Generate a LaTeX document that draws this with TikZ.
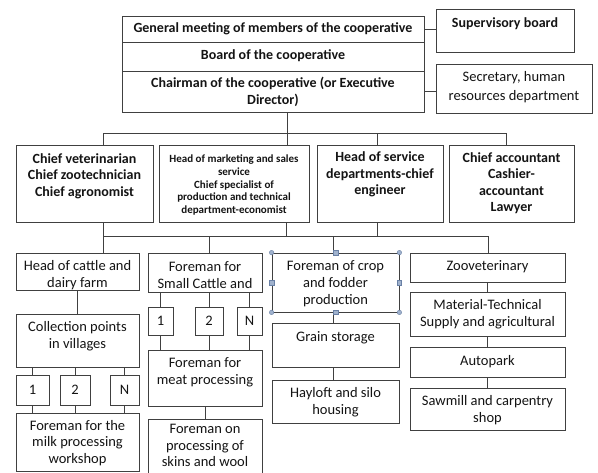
\documentclass[tikz,border=0pt]{standalone}
\usepackage{fontspec}
\setmainfont{Carlito}
\usetikzlibrary{fit}
\definecolor{ln}{RGB}{64,64,64}
\definecolor{tx}{RGB}{20,20,20}
\definecolor{hdl}{RGB}{160,178,205}
\definecolor{hdlb}{RGB}{105,128,165}
\begin{document}
\begin{tikzpicture}[x=1pt,y=-1pt,
  bx/.style={draw=ln, line width=0.8pt, inner sep=0pt},
  bt/.style={text=tx, font=\fontsize{14}{16.5}\selectfont\bfseries, align=center, inner sep=0pt},
  rt/.style={text=tx, font=\fontsize{14.5}{16.8}\selectfont, align=center, inner sep=0pt},
  st/.style={text=tx, font=\fontsize{11}{12.6}\selectfont\bfseries, align=center, inner sep=0pt},
  cn/.style={draw=ln, line width=0.8pt},
  hc/.style={circle, fill=hdl, draw=hdlb, line width=0.4pt, minimum size=4.5pt, inner sep=0pt},
  hs/.style={rectangle, fill=hdl, draw=hdlb, line width=0.4pt, minimum size=4.5pt, inner sep=0pt}]
\clip (0,0) rectangle (598,472);
\fill[white] (0,0) rectangle (598,472);
% top block
\node[bx, fit={(122,16) (424,42)}] (gm) {};
\node[bx, fit={(122,42) (424,71)}] (board) {};
\node[bx, fit={(122,71) (424,112)}] (chair) {};
\node[bx, fit={(436,9) (574,52)}] (sup) {};
\node[bx, fit={(436,64) (592,113)}] (sec) {};
\node[bt] (gm-t) at (273,29) {General meeting of members of the cooperative};
\node[bt] (board-t) at (273,56) {Board of the cooperative};
\node[bt] (chair-t) at (273,92) {Chairman of the cooperative (or Executive\\Director)};
\node[bt] (sup-t) at (505,24) {Supervisory board};
\node[text=tx, font=\fontsize{14.5}{19}\selectfont, align=center, inner sep=0pt] (sec-t) at (514,87) {Secretary, human\\resources department};
% row 2
\node[bx, fit={(16,145) (153,222)}] (A) {};
\node[bx, fit={(159,145) (309,222)}] (B) {};
\node[bx, fit={(317,145) (443,222)}] (C) {};
\node[bx, fit={(449,145) (574,222)}] (D) {};
\node[bt] (A-t) at (84.5,176) {Chief veterinarian\\Chief zootechnician\\Chief agronomist};
\node[st] (B-t) at (234,185) {Head of marketing and sales\\service\\Chief specialist of\\production and technical\\department-economist};
\node[bt] (C-t) at (380,174.5) {Head of service\\departments-chief\\engineer};
\node[bt] (D-t) at (511.5,183) {Chief accountant\\Cashier-\\accountant\\Lawyer};
% column 1
\node[bx, fit={(16,253) (139,290)}] (cattle) {};
\node[bx, fit={(16,314) (139,367)}] (coll) {};
\node[bx, fit={(16,375) (49,405)}] (n1) {};
\node[bx, fit={(60,375) (90,405)}] (n2) {};
\node[bx, fit={(110,375) (139,405)}] (nN) {};
\node[bx, fit={(16,413) (139,471)}] (milk) {};
\node[rt] (cattle-t) at (77.5,275) {Head of cattle and\\dairy farm};
\node[rt] (coll-t) at (77.5,336.5) {Collection points\\in villages};
\node[rt] (n1-t) at (32.5,390) {1};
\node[rt] (n2-t) at (75,390) {2};
\node[rt] (nN-t) at (124.5,390) {N};
\node[rt] (milk-t) at (77.5,443) {Foreman for the\\milk processing\\workshop};
% column 2
\node[bx, fit={(148,253) (262,292)}] (small) {};
\node[bx, fit={(148,307) (173,335)}] (m1) {};
\node[bx, fit={(195,307) (223,335)}] (m2) {};
\node[bx, fit={(237,307) (262,335)}] (mN) {};
\node[bx, fit={(148,350) (262,406)}] (meat) {};
\node[bx, fit={(148,419) (262,480)}] (skins) {};
\node[rt] (small-t) at (205,275) {Foreman for\\Small Cattle and};
\node[rt] (m1-t) at (160.5,321) {1};
\node[rt] (m2-t) at (209,321) {2};
\node[rt] (mN-t) at (249.5,321) {N};
\node[rt] (meat-t) at (205,372) {Foreman for\\meat processing};
\node[rt] (skins-t) at (205,445.5) {Foreman on\\processing of\\skins and wool};
% column 3
\node[bx, fit={(272,253) (399,312)}] (crop) {};
\node[bx, fit={(272,323) (399,367)}] (grain) {};
\node[bx, fit={(272,380) (399,423)}] (hay) {};
\node[rt] (crop-t) at (335.5,283.5) {Foreman of crop\\and fodder\\production};
\node[rt] (grain-t) at (335.5,338) {Grain storage};
\node[rt] (hay-t) at (335.5,402) {Hayloft and silo\\housing};
% column 4
\node[bx, fit={(410,253) (565,282)}] (zoo) {};
\node[bx, fit={(410,292) (565,336)}] (mat) {};
\node[bx, fit={(410,347) (565,377)}] (auto) {};
\node[bx, fit={(410,388) (565,430)}] (saw) {};
\node[rt] (zoo-t) at (487.5,267) {Zooveterinary};
\node[rt] (mat-t) at (487.5,314) {Material-Technical\\Supply and agricultural};
\node[rt] (auto-t) at (487.5,362) {Autopark};
\node[rt] (saw-t) at (487.5,410) {Sawmill and carpentry\\shop};
% bus coordinates
\coordinate (b1L) at (103,133);
\coordinate (b1M) at (287,133);
\coordinate (b1C) at (377,133);
\coordinate (b1R) at (506,133);
\coordinate (b2L) at (103,236);
\coordinate (b2S) at (209,236);
\coordinate (b2B) at (286,236);
\coordinate (b2Cr) at (333,236);
\coordinate (b2C) at (377,236);
\coordinate (b2R) at (488,236);
% connectors top
\draw[cn] (gm.east) -- (gm.east -| sup.west);
\draw[cn] (chair.east) -- (chair.east -| sec.west);
\draw[cn] (b1L) -- (b1R);
\draw[cn] (b1M |- chair.south) -- (b1M |- B.north);
\draw[cn] (b1L) -- (b1L |- A.north);
\draw[cn] (b1C) -- (b1C |- C.north);
\draw[cn] (b1R) -- (b1R |- D.north);
% connectors row 2 -> 3
\draw[cn] (b2L) -- (b2R);
\draw[cn] (b2L |- A.south) -- (b2L |- cattle.north);
\draw[cn] (b2B |- B.south) -- (b2B);
\draw[cn] (b2C |- C.south) -- (b2C);
\draw[cn] (b2S) -- (b2S |- small.north);
\draw[cn] (b2Cr) -- (b2Cr |- crop.north);
\draw[cn] (b2R) -- (b2R |- zoo.north);
% column 1
\draw[cn] (cattle.south) -- (coll.north);
\foreach \n in {n1,n2,nN}{
  \draw[cn] (coll.south -| \n.north) -- (\n.north);
  \draw[cn] (\n.south) -- (milk.north -| \n.south);
}
% column 2
\foreach \n in {m1,m2,mN}{
  \draw[cn] (small.south -| \n.north) -- (\n.north);
  \draw[cn] (\n.south) -- (meat.north -| \n.south);
}
\draw[cn] (meat.south) -- (skins.north);
% column 3
\draw[cn] (crop.south -| b2Cr) -- (grain.north -| b2Cr);
\draw[cn] (grain.south -| b2Cr) -- (hay.north -| b2Cr);
% column 4
\draw[cn] (zoo.south) -- (mat.north);
\draw[cn] (mat.south) -- (auto.north);
\draw[cn] (auto.south) -- (saw.north);
% selection handles on crop box
\node[hc] (h1) at (crop.north west) {};
\node[hc] (h2) at (crop.north east) {};
\node[hc] (h3) at (crop.south west) {};
\node[hc] (h4) at (crop.south east) {};
\node[hs] (h5) at (crop.north) {};
\node[hs] (h6) at (crop.south) {};
\node[hs] (h7) at (crop.east) {};
\node[hs] (h8) at (crop.west) {};
\end{tikzpicture}
\end{document}
